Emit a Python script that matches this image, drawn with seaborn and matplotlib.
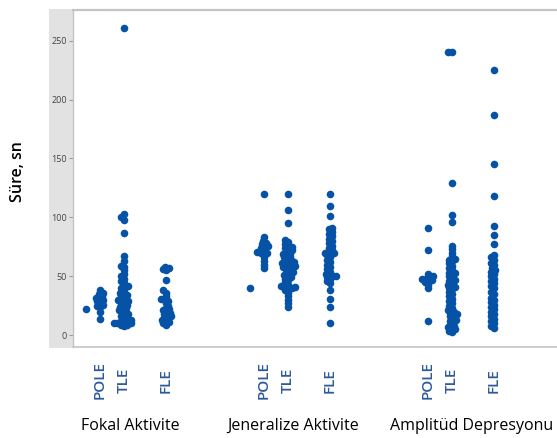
import matplotlib
matplotlib.use("Agg")
import matplotlib.pyplot as plt
import pandas as pd
import seaborn as sns
from matplotlib.patches import Rectangle

# Data (Süre, sn)
fokal_lone = [22]
fokal_pole = [14, 20, 24, 25, 26, 28, 29, 30, 31, 32, 33, 35, 36, 38]
fokal_tle = [261, 103, 100, 98, 87, 67, 63, 59, 58, 55, 52, 50, 48, 46, 44, 42, 41, 40, 38,
             36, 35, 34, 33, 32, 30, 30, 29, 28, 27, 26, 25, 24, 23, 22, 21, 20, 19, 18,
             17, 16, 15, 14, 13, 12, 12, 11, 10, 10, 10, 9, 9, 8]
fokal_fle = [58, 57, 56, 55, 47, 38, 36, 33, 31, 30, 29, 27, 25, 23, 22, 21, 20, 19, 18,
             17, 16, 15, 14, 13, 12, 11, 10, 9]

jen_lone = [40]
jen_pole = [120, 83, 80, 78, 77, 76, 75, 74, 72, 71, 70, 70, 69, 66, 63, 60, 57]
jen_tle = [120, 106, 95, 81, 79, 77, 76, 75, 74, 73, 72, 71, 70, 69, 68, 67, 66, 65, 64, 63,
           62, 62, 61, 60, 60, 59, 58, 58, 57, 56, 55, 54, 53, 52, 51, 50, 49, 48, 47, 45,
           43, 42, 41, 41, 40, 40, 38, 36, 33, 30, 27, 24]
jen_fle = [120, 110, 101, 91, 90, 88, 86, 84, 82, 80, 78, 76, 74, 72, 71, 70, 70, 69, 68,
           66, 64, 62, 60, 58, 56, 54, 52, 51, 50, 50, 49, 48, 46, 44, 38, 31, 24, 10]

amp_pole = [91, 72, 52, 50, 49, 48, 48, 47, 46, 45, 43, 40, 12]
amp_tle = [240, 240, 129, 102, 96, 76, 73, 70, 67, 65, 64, 63, 61, 59, 57, 55, 53, 53, 52,
           50, 49, 47, 46, 45, 43, 42, 41, 40, 39, 37, 35, 33, 31, 29, 27, 25, 23, 21, 20,
           19, 18, 17, 16, 14, 13, 12, 11, 9, 8, 7, 6, 5, 4, 3]
amp_fle = [225, 187, 145, 118, 93, 85, 77, 68, 66, 64, 61, 60, 57, 55, 54, 52, 50, 48, 46,
           44, 42, 40, 37, 35, 32, 30, 28, 26, 24, 22, 20, 18, 16, 14, 12, 10, 8, 6]

group_names = ["Fokal Aktivite", "Jeneralize Aktivite", "Amplitüd Depresyonu"]
sub_names = ["POLE", "TLE", "FLE"]
y_ticks = [0, 50, 100, 150, 200, 250]

# layout: group start and offsets of each column within a group
group_x = [100, 264, 428]
offsets = {"lone": -14, "POLE": 0, "TLE": 24, "FLE": 66}
label_x = [130, 293, 472]

series = [
    (0, "POLE", fokal_pole), (0, "TLE", fokal_tle), (0, "FLE", fokal_fle),
    (1, "POLE", jen_pole), (1, "TLE", jen_tle), (1, "FLE", jen_fle),
    (2, "POLE", amp_pole), (2, "TLE", amp_tle), (2, "FLE", amp_fle),
]
lone = [(0, fokal_lone), (1, jen_lone)]

rows = []
for g, name, vals in series:
    for v in vals:
        rows.append({"pos": group_x[g] + offsets[name], "value": v})
df = pd.DataFrame(rows)

rows = []
for g, vals in lone:
    for v in vals:
        rows.append({"pos": group_x[g] + offsets["lone"], "value": v})
df_lone = pd.DataFrame(rows)

dot_color = "#0652A6"
label_blue = "#2E5A9A"

fig = plt.figure(figsize=(5.57, 4.38), dpi=100)
W, H = 557, 438
ax = fig.add_axes([73 / W, (H - 347) / H, (575 - 73) / W, (347 - 10) / H])

# gray panel behind the y tick labels
fig.patches.append(Rectangle((49 / W, (H - 348) / H), 24 / W, 339 / H,
                             transform=fig.transFigure, facecolor="#e2e2e2",
                             edgecolor="none", zorder=-5))

sns.swarmplot(data=df, x="pos", y="value", native_scale=True, color=dot_color,
              size=2.5, linewidth=0, ax=ax, warn_thresh=1)
sns.swarmplot(data=df_lone, x="pos", y="value", native_scale=True, color=dot_color,
              size=2.5, linewidth=0, ax=ax, warn_thresh=1)

ax.set_xlim(73, 575)
ax.set_ylim(-10, 276)
ax.set_facecolor("white")
for side in ["top", "bottom", "left", "right"]:
    ax.spines[side].set_color("#c4c4c4")
ax.spines["top"].set_linewidth(1.6)
ax.spines["bottom"].set_linewidth(1.2)
ax.spines["left"].set_linewidth(1.0)

ax.set_yticks(y_ticks)
ax.set_yticklabels([str(t) for t in y_ticks], fontsize=6.5, color="#444444",
                   family="Open Sans")
ax.tick_params(axis="y", length=3, width=0.8, color="#9a9a9a", pad=1.5)

xt = []
xl = []
for g in range(3):
    for name in sub_names:
        xt.append(group_x[g] + offsets[name])
        xl.append(name)
ax.set_xticks(xt)
ax.set_xticklabels(xl, rotation=90, fontsize=11, color=label_blue, family="Open Sans",
                   fontweight="semibold")
for lbl in ax.get_xticklabels():
    lbl.set_va("center")
ax.tick_params(axis="x", length=0, pad=24)
ax.set_xlabel("")
ax.set_ylabel("")

for g, name in enumerate(group_names):
    fig.text(label_x[g] / W, 1 - 426 / H, name, ha="center", va="center", fontsize=11.5,
             family="Open Sans", color="black")

fig.text(18 / W, 1 - 172 / H, "Süre, sn", rotation=90, ha="center", va="center",
         fontsize=11.5, family="Open Sans", fontweight="semibold", color="black")

# lay the swarm out with small dots, then freeze it and enlarge the dots
# so they overlap like in the original
fig.canvas.draw()
for coll in ax.collections:
    if "draw" in coll.__dict__:
        del coll.draw
    coll.set_sizes([30])

fig.savefig("out.png", dpi=100)
